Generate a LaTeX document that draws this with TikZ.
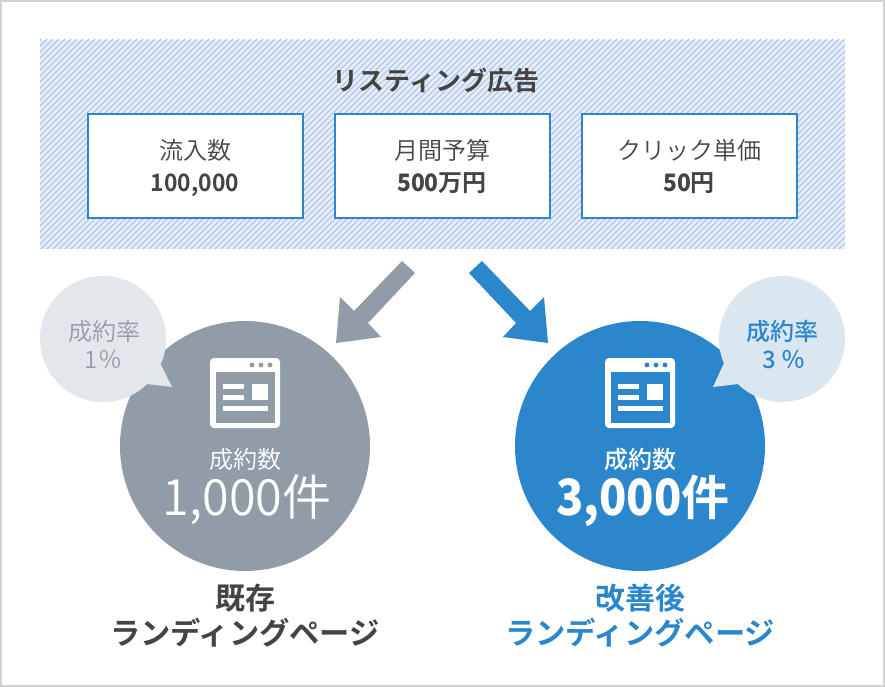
\documentclass[tikz,border=0pt]{standalone}
\usepackage{fontspec}
\setmainfont{Noto Sans CJK JP}[BoldFont={Noto Sans CJK JP Bold}]
\newfontfamily\lightcjk{Noto Sans CJK JP DemiLight}
\newfontfamily\medcjk{Noto Sans CJK JP Medium}
\newfontfamily\lightnum[FakeStretch=0.97]{Noto Sans CJK JP DemiLight}
\newfontfamily\boldnum[FakeStretch=0.95]{Noto Sans CJK JP Bold}
\newfontfamily\bignum[FakeStretch=0.90]{Noto Sans CJK JP Bold}
\begin{document}
\begin{tikzpicture}[x=1pt,y=-1pt,
  txt/.style={inner sep=0pt,anchor=base,text=ink,align=center},
  valbox/.style={draw=brand,line width=2.4pt,fill=white,minimum width=215pt,minimum height=104pt,inner sep=0pt},
  disc/.style={circle,minimum size=250pt,inner sep=0pt}]
\definecolor{ink}{HTML}{444444}
\definecolor{brand}{HTML}{2B86CC}
\definecolor{slate}{HTML}{929CA8}
\definecolor{hatchbg}{HTML}{E6ECF7}
\definecolor{hatchln}{HTML}{A3C1EA}
\definecolor{bubgrey}{HTML}{E3E6EA}
\definecolor{bubblue}{HTML}{DBE7F0}
\definecolor{frame}{HTML}{D2D2D2}
\useasboundingbox (0,0) rectangle (885,687);
\fill[white] (0,0) rectangle (885,687);
\draw[frame,line width=2pt] (1,1) rectangle (884,686);
% hatched panel
\fill[hatchbg] (40,40) rectangle (845,249);
\begin{scope}
  \clip (40,40) rectangle (845,249);
  \foreach \k in {0,6,...,1030}{
    \draw[hatchln,line width=1pt] (40+\k-209,249) -- ++(209+10,-209-10);
  }
\end{scope}
\node[txt,font=\bfseries\fontsize{26}{26}\selectfont] (title) at (436,91) {リスティング広告};
% value boxes
\node[valbox] (b1) at (195.5,166) {};
\node[valbox] (b2) at (442.5,166) {};
\node[valbox] (b3) at (689.5,166) {};
\node[txt,font=\lightcjk\fontsize{24}{24}\selectfont] (l1) at (195,160) {流入数};
\node[txt,font=\boldnum\fontsize{24}{24}\selectfont] (v1) at (195,191) {100,000};
\node[txt,font=\lightcjk\fontsize{24}{24}\selectfont] (l2) at (442,160) {月間予算};
\node[txt,font=\bfseries\fontsize{24}{24}\selectfont] (v2) at (442,191) {{\boldnum 500}万円};
\node[txt,font=\lightcjk\fontsize{24}{24}\selectfont] (l3) at (689,160) {クリック単価};
\node[txt,font=\bfseries\fontsize{24}{24}\selectfont] (v3) at (689,191) {{\boldnum 50}円};
% arrows
\fill[slate] (415,273) -- (402,261) -- (354,311) -- (340,297) -- (336,343) -- (381,337) -- (368,323) -- cycle;
\fill[brand] (469,273) -- (482,261) -- (530,311) -- (544,297) -- (548,343) -- (503,337) -- (516,323) -- cycle;
% circles
\node[disc,fill=slate] (c1) at (245,446) {};
\node[disc,fill=brand] (c2) at (640,446) {};
% bubbles
\fill[bubgrey] (103,339) circle (63);
\fill[bubgrey] (161,365) -- (172,387) -- (147,384) -- (130,370) -- cycle;
\fill[bubblue] (782,339) circle (63);
\fill[bubblue] (724,363) -- (713,387) -- (738,384) -- (755,370) -- cycle;
\node[txt,text=slate,font=\lightcjk\fontsize{24}{24}\selectfont] (r1) at (104,340) {成約率};
\node[txt,text=slate,font=\lightcjk\fontsize{24}{24}\selectfont] (p1) at (103.5,368) {1％};
\node[txt,text=brand,font=\medcjk\fontsize{24}{24}\selectfont] (r2) at (782,340) {成約率};
\node[txt,text=brand,font=\medcjk\fontsize{24}{24}\selectfont] (p2) at (784,368) {3 ％};
% icons
\foreach \ox/\bg in {0/slate,395/brand}{
  \begin{scope}[xshift=\ox pt]
    \fill[white,rounded corners=4pt] (210,358) rectangle (280,428);
    \fill[\bg] (215.5,372) rectangle (275,423);
    \fill[\bg] (252,365) circle (2.4) (261,365) circle (2.4) (270,365) circle (2.4);
    \fill[white] (223,384) rectangle (244,389);
    \fill[white] (223,395) rectangle (244,400);
    \fill[white] (252,384) rectangle (268,400);
    \fill[white] (223,406) rectangle (268,411);
  \end{scope}
}
% circle text
\node[txt,text=white,font=\lightcjk\fontsize{24}{24}\selectfont] (n1) at (245,468) {成約数};
\node[txt,text=white,font=\lightcjk\fontsize{49}{49}\selectfont] (m1) at (247,515) {{\lightnum\fontsize{50}{50}\selectfont 1,000}件};
\node[txt,text=white,font=\medcjk\fontsize{24}{24}\selectfont] (n2) at (640,468) {成約数};
\node[txt,text=white,font=\bfseries\fontsize{48}{48}\selectfont] (m2) at (643,515) {{\bignum\fontsize{50}{50}\selectfont 3,000}件};
% captions
\node[txt,font=\bfseries\fontsize{30}{30}\selectfont] (t1) at (245,609) {既存};
\node[txt,font=\bfseries\fontsize{30.3}{30}\selectfont] (t2) at (245,644) {ランディングページ};
\node[txt,text=brand,font=\bfseries\fontsize{30}{30}\selectfont] (t3) at (640,609) {改善後};
\node[txt,text=brand,font=\bfseries\fontsize{30.3}{30}\selectfont] (t4) at (640,644) {ランディングページ};
\end{tikzpicture}
\end{document}
